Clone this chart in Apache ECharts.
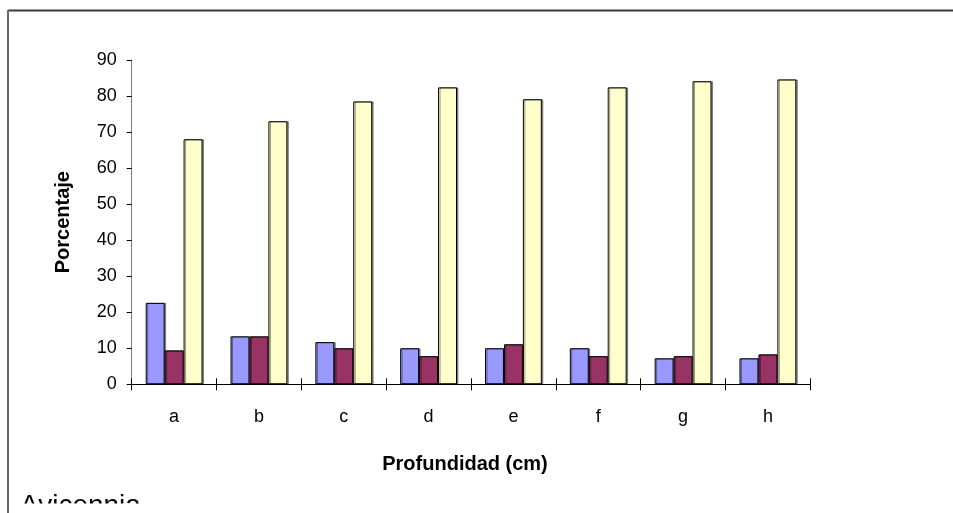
<!DOCTYPE html>
<html>
<head>
<meta charset="utf-8">
<script src="https://cdn.jsdelivr.net/npm/echarts@6/dist/echarts.min.js"></script>
<style>
html,body{margin:0;padding:0;background:#fff;}
#chart{width:953px;height:513px;}
</style>
</head>
<body>
<div id="chart"></div>
<script>
const categories = ['a', 'b', 'c', 'd', 'e', 'f', 'g', 'h'];
const serie1 = [22.6, 13.3, 11.7, 10.0, 10.0, 10.0, 7.2, 7.2];
const serie2 = [9.4, 13.3, 10.0, 7.8, 11.1, 7.8, 7.8, 8.3];
const serie3 = [68.0, 73.0, 78.5, 82.4, 79.1, 82.4, 84.1, 84.6];
const yTicks = [0, 10, 20, 30, 40, 50, 60, 70, 80, 90];

const FONT = "'Liberation Sans', Arial, sans-serif";
const chart = echarts.init(document.getElementById('chart'), null, {renderer: 'canvas'});

function barSeries(name, data, color) {
  return {
    name: name,
    type: 'bar',
    xAxisIndex: 0,
    data: data,
    barGap: '0%',
    barCategoryGap: '33%',
    itemStyle: {
      color: color,
      borderColor: '#000',
      borderWidth: 1,
      shadowColor: 'rgba(0,0,0,0.4)',
      shadowOffsetX: 1.5,
      shadowOffsetY: 0,
      shadowBlur: 0
    },
    emphasis: {disabled: true},
    animation: false
  };
}

chart.setOption({
  animation: false,
  backgroundColor: '#ffffff',
  grid: {left: 131.7, right: 142.7, top: 60, bottom: 128.7, containLabel: false},
  xAxis: [{
    type: 'category',
    data: categories,
    position: 'bottom',
    axisLine: {lineStyle: {color: '#000', width: 1}},
    axisTick: {show: true, inside: false, length: 6, alignWithLabel: false, lineStyle: {color: '#000'}},
    axisLabel: {margin: 24, color: '#000', fontFamily: FONT, fontSize: 18},
    name: 'Profundidad (cm)',
    nameLocation: 'middle',
    nameGap: 70,
    nameTextStyle: {fontFamily: FONT, fontSize: 20, fontWeight: 'bold', color: '#000', padding: [0, 12, 0, 0]}
  }, {
    type: 'category',
    data: categories,
    position: 'bottom',
    axisLine: {show: false},
    axisTick: {show: true, inside: true, length: 6, lineStyle: {color: '#000'}},
    axisLabel: {show: false}
  }],
  yAxis: {
    type: 'value',
    min: 0,
    max: 90,
    interval: 10,
    splitLine: {show: false},
    axisLine: {show: true, lineStyle: {color: '#808080', width: 1}},
    axisTick: {show: true, inside: false, length: 5, lineStyle: {color: '#000'}},
    axisLabel: {
      margin: 15, color: '#000', fontFamily: FONT, fontSize: 18,
      formatter: function (v) { return yTicks.indexOf(v) >= 0 ? String(v) : ''; }
    },
    name: 'Porcentaje',
    nameLocation: 'middle',
    nameGap: 58,
    nameRotate: 90,
    nameTextStyle: {fontFamily: FONT, fontSize: 20, fontWeight: 'bold', color: '#000'}
  },
  series: [
    barSeries('Serie 1', serie1, '#9999FF'),
    barSeries('Serie 2', serie2, '#993366'),
    barSeries('Serie 3', serie3, '#FFFFCC')
  ],
  graphic: [
    {type: 'text', left: 20, top: 492, style: {text: 'Avicennia', font: "28px 'Liberation Sans', Arial, sans-serif", fill: '#000'}, z: 10},
    {type: 'rect', shape: {x: 9, y: 503.5, width: 944, height: 10}, style: {fill: '#fff'}, z: 11},
    {type: 'line', shape: {x1: 8, y1: 10.5, x2: 953, y2: 10.5}, style: {stroke: '#3a3a3a', lineWidth: 2}, z: 12},
    {type: 'line', shape: {x1: 8, y1: 10, x2: 8, y2: 513}, style: {stroke: '#6a6a6a', lineWidth: 2}, z: 12}
  ]
});
</script>
</body>
</html>
